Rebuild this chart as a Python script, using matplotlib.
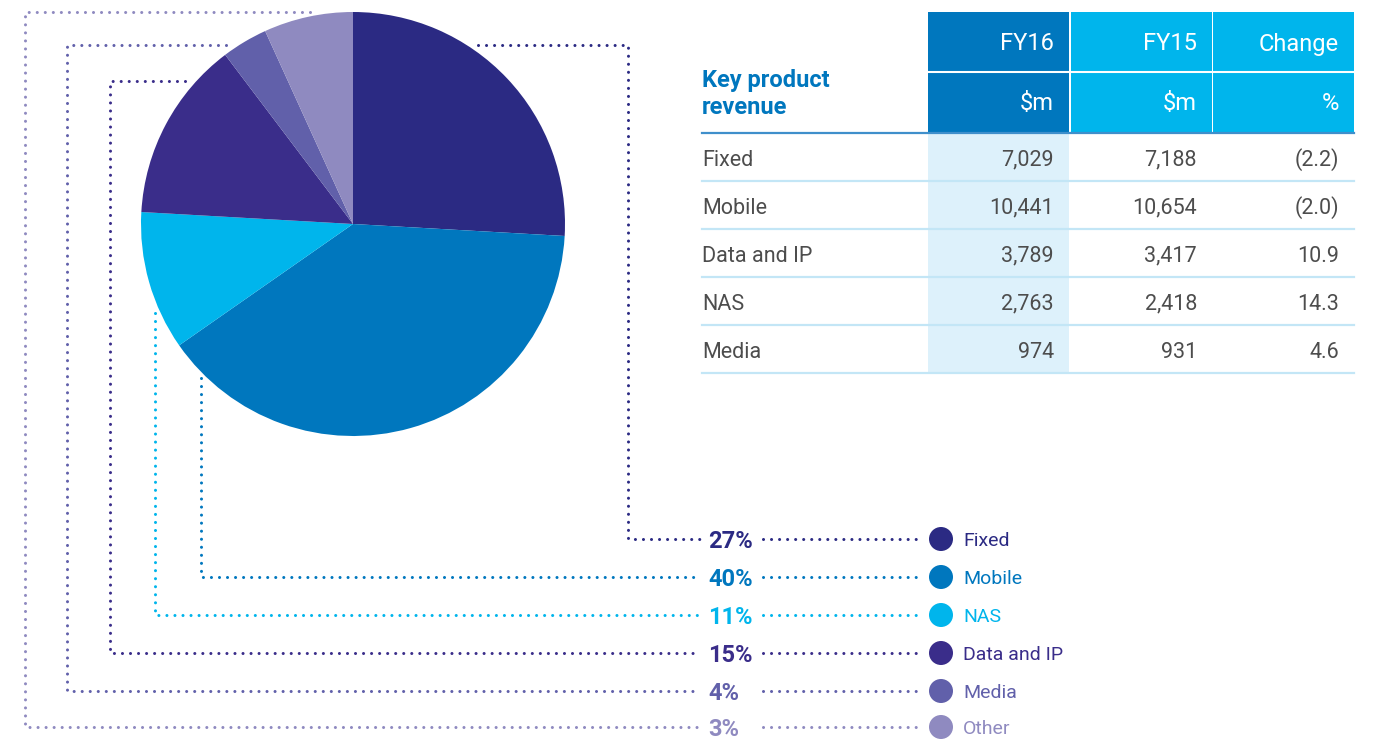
import matplotlib
matplotlib.use('Agg')

import matplotlib.pyplot as plt
from matplotlib.patches import Circle, Rectangle

plt.rcParams['font.family'] = ['Roboto', 'DejaVu Sans']

# ---- data ----
categories = ['Fixed', 'Mobile', 'NAS', 'Data and IP', 'Media', 'Other']
pct_labels = [27, 40, 11, 15, 4, 3]
# slice sizes as drawn in the pie
slice_shares = [25.9, 39.4, 10.6, 13.8, 3.5, 6.8]
colors = ['#2B2A83', '#0077BE', '#00B5EC', '#3A2D8A', '#6160AA', '#8F8AC0']

table_rows = ['Fixed', 'Mobile', 'Data and IP', 'NAS', 'Media']
fy16 = [7029, 10441, 3789, 2763, 974]
fy15 = [7188, 10654, 3417, 2418, 931]
change = [-2.2, -2.0, 10.9, 14.3, 4.6]
col_heads = ['FY16', 'FY15', 'Change']
col_units = ['$m', '$m', '%']

# ---- layout (pixel coords, y downwards) ----
W, H = 1386, 740
fig = plt.figure(figsize=(W / 100, H / 100), dpi=100)
ax = fig.add_axes([0, 0, 1, 1])

PIE_C = (353, 224)
PIE_R = 212
# y axis is inverted, so counterclock in data space = clockwise on screen
ax.pie(slice_shares, colors=colors, startangle=-90, counterclock=True,
       center=PIE_C, radius=PIE_R, wedgeprops=dict(linewidth=0))

ax.set_xlim(0, W)
ax.set_ylim(H, 0)
ax.set_aspect('equal')
ax.axis('off')

# legend rows
row_y = [539, 577, 615, 653, 691, 727]
# leader lines from the pie to each row
leaders = [
    [(478, 45), (628, 45), (628, 539)],
    [(201, 378), (201, 577)],
    [(155, 313), (155, 615)],
    [(185, 81), (110, 81), (110, 653)],
    [(226, 45), (67, 45), (67, 691)],
    [(310, 12), (25, 12), (25, 727)],
]


def dotted(xs, ys, c):
    ax.plot(xs, ys, color=c, lw=2.2, linestyle=(0, (0.01, 2.62)),
            dash_capstyle='round', zorder=0)


for i, cat in enumerate(categories):
    y = row_y[i]
    pts = leaders[i] + [(700, y)]
    dotted([p[0] for p in pts], [p[1] for p in pts], colors[i])
    dotted([763, 922], [y, y], colors[i])
    ax.text(708, y + 2, f"{pct_labels[i]}%", color=colors[i], fontsize=17,
            fontweight='bold', va='center', ha='left')
    ax.add_patch(Circle((941, y), 12, color=colors[i], lw=0))
    ax.text(963, y + 1.5, cat, color=colors[i], fontsize=14, va='center', ha='left')

# ---- table ----
X0, X1 = 702, 1354
col_x = [928, 1071, 1213]
col_w = 141
col_right = [1054, 1197, 1339]
head_cols = ['#0077BE', '#00B5EC', '#00B5EC']
txt_col = '#4D4D4D'

for j in range(3):
    ax.add_patch(Rectangle((col_x[j], 12), col_w, 120, color=head_cols[j], lw=0))
    ax.text(col_right[j], 44, col_heads[j], color='white', fontsize=17,
            va='center', ha='right')
    ax.text(col_right[j], 104, col_units[j], color='white', fontsize=17,
            va='center', ha='right')
ax.plot([928, X1], [72, 72], color='white', lw=1.5)

ax.add_patch(Rectangle((928, 133), col_w, 240, color='#DDF1FB', lw=0))
ax.plot([X0, X1], [133, 133], color='#3F8FCB', lw=1.6)

ax.text(X0, 80, 'Key product', color='#0077BE', fontsize=17, fontweight='bold',
        va='center', ha='left')
ax.text(X0, 107, 'revenue', color='#0077BE', fontsize=17, fontweight='bold',
        va='center', ha='left')

for i, name in enumerate(table_rows):
    yc = 160 + 48 * i
    ax.plot([X0, X1], [181 + 48 * i] * 2, color='#C3E6F6', lw=1.6)
    ax.text(X0, yc, name, color=txt_col, fontsize=15.5, va='center', ha='left')
    ax.text(col_right[0], yc, f"{fy16[i]:,}", color=txt_col, fontsize=15.5,
            va='center', ha='right')
    ax.text(col_right[1], yc, f"{fy15[i]:,}", color=txt_col, fontsize=15.5,
            va='center', ha='right')
    ch = f"({abs(change[i]):.1f})" if change[i] < 0 else f"{change[i]:.1f}"
    ax.text(col_right[2], yc, ch, color=txt_col, fontsize=15.5,
            va='center', ha='right')

plt.savefig('out.png', dpi=100)
plt.close(fig)
